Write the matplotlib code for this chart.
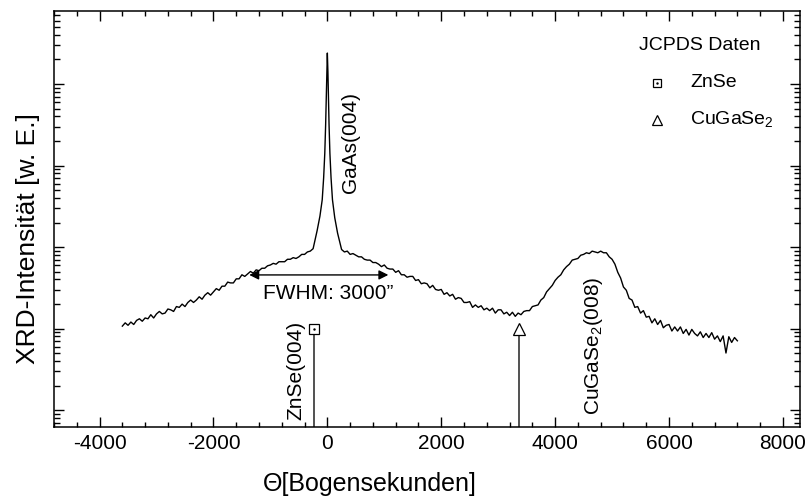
import numpy as np
import matplotlib
matplotlib.use("Agg")
import matplotlib.pyplot as plt
from matplotlib.ticker import MultipleLocator, LogLocator, NullFormatter

plt.rcParams['font.family'] = ['Liberation Sans', 'DejaVu Sans']
plt.rcParams['mathtext.fontset'] = 'custom'
plt.rcParams['mathtext.rm'] = 'Liberation Sans'
plt.rcParams['axes.unicode_minus'] = False

# XRD scan, log10 of intensity (step 50 arcsec)
left_x = np.arange(-3600, -200, 50)
left_log = [
    1.03, 1.07, 1.04, 1.08, 1.05, 1.10, 1.12, 1.09, 1.13, 1.12,
    1.17, 1.13, 1.18, 1.21, 1.18, 1.19, 1.24, 1.23, 1.21, 1.27,
    1.26, 1.30, 1.27, 1.32, 1.35, 1.32, 1.35, 1.39, 1.36, 1.41,
    1.44, 1.41, 1.45, 1.49, 1.47, 1.52, 1.52, 1.57, 1.56, 1.56,
    1.61, 1.61, 1.66, 1.64, 1.67, 1.70, 1.68, 1.72, 1.71, 1.74,
    1.74, 1.77, 1.78, 1.80, 1.79, 1.82, 1.82, 1.82, 1.85, 1.85,
    1.87, 1.86, 1.88, 1.91, 1.91, 1.94, 1.95, 1.98,
]

# GaAs(004) substrate peak
peak_x = [-180, -130, -90, -65, -45, -30, -20, -10, 0,
          10, 20, 30, 45, 65, 90, 130, 180]
peak_log = [2.20, 2.38, 2.58, 2.85, 3.15, 3.50, 3.80, 4.15, 4.38,
            4.15, 3.80, 3.50, 3.15, 2.85, 2.58, 2.36, 2.17]

right_x = np.arange(250, 7250, 50)
right_log = [
    1.97, 1.94, 1.95, 1.91, 1.92, 1.90, 1.88, 1.88, 1.85, 1.84,
    1.84, 1.81, 1.81, 1.79, 1.76, 1.78, 1.74, 1.73, 1.73, 1.69,
    1.71, 1.66, 1.66, 1.63, 1.64, 1.64, 1.59, 1.60, 1.55, 1.56,
    1.55, 1.50, 1.53, 1.48, 1.47, 1.48, 1.42, 1.44, 1.40, 1.42,
    1.36, 1.38, 1.37, 1.32, 1.32, 1.33, 1.26, 1.29, 1.26, 1.28,
    1.23, 1.25, 1.22, 1.25, 1.19, 1.23, 1.23, 1.18, 1.20, 1.16,
    1.20, 1.15, 1.19, 1.17, 1.21, 1.22, 1.22, 1.27, 1.28, 1.29,
    1.35, 1.38, 1.45, 1.49, 1.53, 1.59, 1.63, 1.66, 1.72, 1.76,
    1.79, 1.84, 1.85, 1.86, 1.90, 1.91, 1.93, 1.92, 1.95, 1.94,
    1.93, 1.95, 1.93, 1.93, 1.88, 1.85, 1.79, 1.69, 1.62, 1.51,
    1.47, 1.37, 1.35, 1.26, 1.27, 1.19, 1.22, 1.14, 1.15, 1.07,
    1.12, 1.05, 1.10, 1.01, 1.04, 1.05, 0.97, 1.02, 0.97, 1.02,
    0.94, 0.99, 0.92, 0.99, 0.94, 0.91, 0.96, 0.89, 0.94, 0.89,
    0.95, 0.87, 0.91, 0.84, 0.91, 0.70, 0.90, 0.83, 0.89, 0.85,
]

# JCPDS reference positions
ref_names = ['ZnSe', 'CuGaSe$_\\mathregular{2}$']
ref_pos = [-240, 3370]
ref_int = [10, 10]
ref_markers = ['s', '^']

theta = np.concatenate([left_x, peak_x, right_x])
intensity = 10 ** np.concatenate([left_log, peak_log, right_log])

fig = plt.figure(figsize=(8.09, 4.99), dpi=100)
ax = fig.add_axes([54 / 809, 1 - 427 / 499, 746 / 809, 416 / 499])

ax.plot(theta, intensity, color='k', lw=1.0)
ax.set_yscale('log')
ax.set_xlim(-4800, 8300)
ax.set_ylim(0.62, 78700)

for x, y, m in zip(ref_pos, ref_int, ref_markers):
    ax.vlines(x, 0.62, y, color='#222222', lw=1.1)
    ax.plot(x, y, marker=m, ms=6.5 if m == 's' else 8, mfc='white', mec='k', mew=0.9)
ax.plot(ref_pos[0], ref_int[0], marker='.', ms=1.5, color='k')

ax.annotate('', xy=(-1420, 45.5), xytext=(1120, 45.5),
            arrowprops=dict(arrowstyle='<|-|>', color='k', lw=1, mutation_scale=14))
ax.text(20, 27, 'FWHM: 3000”', ha='center', va='center', fontsize=15)
ax.text(405, 1900, 'GaAs(004)', rotation=90, ha='center', va='center', fontsize=15)
ax.text(-560, 3.1, 'ZnSe(004)', rotation=90, ha='center', va='center', fontsize=15)
ax.text(4680, 6.1, 'CuGaSe$_\\mathregular{2}$(008)', rotation=90, ha='center', va='center', fontsize=15)

# legend drawn by hand
ax.text(0.866, 0.918, 'JCPDS Daten', transform=ax.transAxes, ha='center', va='center', fontsize=14)
leg_y = [0.827, 0.738]
for name, m, yy in zip(ref_names, ref_markers, leg_y):
    ax.plot(0.808, yy, marker=m, ms=6 if m == 's' else 7.5, mfc='white', mec='k', mew=0.9,
            transform=ax.transAxes)
    ax.text(0.853, yy, name, transform=ax.transAxes, ha='left', va='center', fontsize=14)
ax.plot(0.808, leg_y[0], marker='.', ms=1.5, color='k', transform=ax.transAxes)

ax.xaxis.set_major_locator(MultipleLocator(2000))
ax.xaxis.set_minor_locator(MultipleLocator(400))
ax.yaxis.set_major_locator(LogLocator(base=10, numticks=10))
ax.yaxis.set_minor_locator(LogLocator(base=10, subs=np.arange(2, 10), numticks=10))
ax.yaxis.set_major_formatter(NullFormatter())
ax.yaxis.set_minor_formatter(NullFormatter())
ax.tick_params(which='both', direction='in', top=True, right=True, width=1)
ax.tick_params(which='major', length=7, labelsize=15, pad=5)
ax.tick_params(axis='x', which='minor', length=3.5)
ax.tick_params(axis='y', which='minor', length=4.5)
for s in ax.spines.values():
    s.set_linewidth(1.1)

fig.text(370 / 809, 1 - 484 / 499, 'Θ[Bogensekunden]', ha='center', va='center', fontsize=18)
fig.text(28 / 809, 1 - 239 / 499, 'XRD-Intensität [w. E.]', rotation=90,
         ha='center', va='center', fontsize=19)

fig.savefig('out.png', dpi=100)
